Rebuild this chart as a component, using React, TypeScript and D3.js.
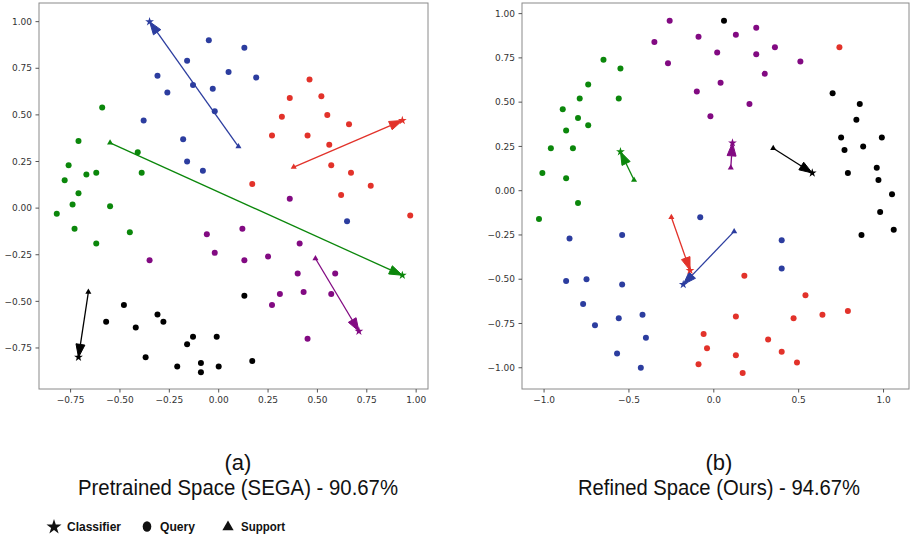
import React from "react";
import * as d3 from "d3";

// class order: blue, red, purple, green, black
const classColors = ["#2c3d9f", "#e2322a", "#820a82", "#0b870b", "#000000"];

// ---- (a) pretrained space ----
const leftBlue = [
  [-0.05, 0.9], [-0.16, 0.79], [0.05, 0.73], [-0.31, 0.71], [-0.13, 0.66], [-0.26, 0.62],
  [-0.03, 0.64], [-0.02, 0.52], [-0.38, 0.47], [-0.18, 0.37], [-0.16, 0.25], [-0.08, 0.2],
  [0.13, 0.86], [0.19, 0.7], [0.65, -0.07],
];
const leftRed = [
  [0.46, 0.69], [0.36, 0.59], [0.52, 0.6], [0.32, 0.49], [0.55, 0.5], [0.66, 0.45],
  [0.27, 0.39], [0.45, 0.39], [0.56, 0.34], [0.57, 0.23], [0.67, 0.19], [0.17, 0.13],
  [0.77, 0.12], [0.62, 0.07], [0.97, -0.04],
];
const leftPurple = [
  [0.36, 0.05], [0.12, -0.11], [0.41, -0.19], [-0.02, -0.24], [0.13, -0.28], [0.25, -0.26],
  [0.4, -0.35], [0.59, -0.35], [0.31, -0.46], [0.43, -0.45], [0.57, -0.46], [0.27, -0.52],
  [0.45, -0.7], [-0.06, -0.14], [-0.35, -0.28],
];
const leftGreen = [
  [-0.59, 0.54], [-0.71, 0.36], [-0.76, 0.23], [-0.67, 0.18], [-0.62, 0.19], [-0.78, 0.15],
  [-0.71, 0.08], [-0.41, 0.3], [-0.39, 0.19], [-0.74, 0.02], [-0.55, 0.01], [-0.82, -0.03],
  [-0.73, -0.11], [-0.45, -0.13], [-0.62, -0.19],
];
const leftBlack = [
  [-0.48, -0.52], [-0.57, -0.61], [-0.42, -0.64], [-0.31, -0.57], [-0.28, -0.61], [-0.13, -0.69],
  [-0.01, -0.69], [-0.16, -0.73], [-0.37, -0.8], [-0.21, -0.85], [-0.09, -0.83], [-0.09, -0.88],
  [0.0, -0.85], [0.13, -0.47], [0.17, -0.82],
];
const leftSupport = [[0.1, 0.33], [0.38, 0.22], [0.49, -0.27], [-0.55, 0.35], [-0.66, -0.45]];
const leftClassifier = [[-0.35, 1.0], [0.93, 0.47], [0.71, -0.66], [0.93, -0.36], [-0.71, -0.8]];
const leftTicks = [-0.75, -0.5, -0.25, 0, 0.25, 0.5, 0.75, 1.0];

// ---- (b) refined space ----
const rightBlue = [
  [-0.85, -0.27], [-0.54, -0.25], [-0.87, -0.51], [-0.75, -0.5], [-0.54, -0.53], [-0.77, -0.64],
  [-0.7, -0.76], [-0.56, -0.72], [-0.42, -0.7], [-0.4, -0.83], [-0.57, -0.92], [-0.43, -1.0],
  [-0.08, -0.15], [0.4, -0.28], [0.4, -0.44],
];
const rightRed = [
  [0.74, 0.81], [0.18, -0.48], [0.54, -0.59], [0.79, -0.68], [0.64, -0.7], [0.47, -0.72],
  [0.13, -0.71], [-0.06, -0.81], [0.32, -0.84], [-0.04, -0.89], [0.13, -0.93], [0.4, -0.91],
  [0.49, -0.97], [-0.09, -0.98], [0.17, -1.03],
];
const rightPurple = [
  [-0.35, 0.84], [-0.26, 0.96], [-0.27, 0.72], [-0.1, 0.56], [-0.09, 0.87], [0.02, 0.78],
  [0.13, 0.88], [0.25, 0.92], [0.25, 0.77], [0.36, 0.81], [0.51, 0.73], [0.3, 0.66],
  [0.04, 0.61], [0.21, 0.49], [-0.02, 0.42],
];
const rightGreen = [
  [-0.65, 0.74], [-0.55, 0.69], [-0.74, 0.6], [-0.79, 0.52], [-0.56, 0.52], [-0.89, 0.46],
  [-0.8, 0.41], [-0.74, 0.37], [-0.87, 0.34], [-0.96, 0.24], [-0.83, 0.24], [-1.01, 0.1],
  [-0.87, 0.07], [-0.8, -0.07], [-1.03, -0.16],
];
const rightBlack = [
  [0.06, 0.96], [0.7, 0.55], [0.86, 0.49], [0.84, 0.4], [0.75, 0.3], [0.99, 0.3],
  [0.77, 0.23], [0.88, 0.25], [0.96, 0.13], [0.79, 0.1], [0.97, 0.06], [1.05, -0.02],
  [0.98, -0.12], [1.06, -0.22], [0.87, -0.25],
];
const rightSupport = [[0.12, -0.23], [-0.25, -0.15], [0.1, 0.13], [-0.47, 0.06], [0.35, 0.24]];
const rightClassifier = [[-0.18, -0.53], [-0.14, -0.45], [0.11, 0.27], [-0.55, 0.22], [0.58, 0.1]];
const rightXTicks = [-1.0, -0.5, 0, 0.5, 1.0];
const rightYTicks = [-1.0, -0.75, -0.5, -0.25, 0, 0.25, 0.5, 0.75, 1.0];

const captions = [
  ["(a)", "Pretrained Space (SEGA) - 90.67%"],
  ["(b)", "Refined Space (Ours) - 94.67%"],
];
const legendItems = ["Classifier", "Query", "Support"];

const starPath = d3.symbol(d3.symbolStar, 24)() as string;
const triPath = d3.symbol(d3.symbolTriangle, 16)() as string;

function fmt(v: number, digits: number) {
  return v.toFixed(digits).replace("-", "\u2212");
}

function Panel({ x, y, queries, support, classifier, xTicks, yTicks, xDigits }: any) {
  const [x0, x1] = x.range();
  const [y0, y1] = y.range();
  const headL = 13;
  const headW = 9;
  return (
    <g>
      <rect x={x0} y={y1} width={x1 - x0} height={y0 - y1} fill="#fff" stroke="#8a8a8a" strokeWidth={1} />
      {yTicks.map((t: number) => (
        <g key={"y" + t} transform={`translate(${x0},${y(t)})`}>
          <line x1={-3.5} x2={0} stroke="#555" />
          <text x={-7} dy="0.35em" textAnchor="end" fontSize={9} fill="#333" fontFamily="DejaVu Sans">
            {fmt(t, 2)}
          </text>
        </g>
      ))}
      {xTicks.map((t: number) => (
        <g key={"x" + t} transform={`translate(${x(t)},${y0})`}>
          <line y1={0} y2={3.5} stroke="#555" />
          <text y={14} textAnchor="middle" fontSize={9} fill="#333" fontFamily="DejaVu Sans">
            {fmt(t, xDigits)}
          </text>
        </g>
      ))}
      {queries.map((pts: number[][], ci: number) =>
        pts.map((p, i) => (
          <circle key={ci + "-" + i} cx={x(p[0])} cy={y(p[1])} r={3} fill={classColors[ci]} />
        ))
      )}
      {support.map((s: number[], ci: number) => {
        const c = classifier[ci];
        const sx = x(s[0]), sy = y(s[1]);
        const cx = x(c[0]), cy = y(c[1]);
        const ang = Math.atan2(cy - sy, cx - sx);
        const bx = cx - headL * Math.cos(ang), by = cy - headL * Math.sin(ang);
        const px = -Math.sin(ang) * headW / 2, py = Math.cos(ang) * headW / 2;
        const col = classColors[ci];
        return (
          <g key={"a" + ci}>
            <line x1={sx} y1={sy} x2={bx} y2={by} stroke={col} strokeWidth={1.3} />
            <path d={`M${cx},${cy}L${bx + px},${by + py}L${bx - px},${by - py}Z`} fill={col} stroke={col} strokeWidth={1} />
            <path d={triPath} transform={`translate(${sx},${sy})`} fill={col} />
            <path d={starPath} transform={`translate(${cx},${cy})`} fill={col} />
          </g>
        );
      })}
    </g>
  );
}

export default function App() {
  const xL = d3.scaleLinear().domain([-0.91, 1.06]).range([39, 428]);
  const yL = d3.scaleLinear().domain([-0.97, 1.1]).range([389, 3]);
  const xR = d3.scaleLinear().domain([-1.13, 1.15]).range([522, 909]);
  const yR = d3.scaleLinear().domain([-1.12, 1.06]).range([389, 3]);

  const legendX = [54, 147, 228];
  const legendW = [54, 35, 44];
  const captionX = [238, 719];
  const captionW = [320, 282];
  return (
    <div>
      <style>{`body{margin:0}`}</style>
      <svg width={910} height={536} style={{ display: "block", background: "#fff" }}>
        <Panel
          x={xL}
          y={yL}
          queries={[leftBlue, leftRed, leftPurple, leftGreen, leftBlack]}
          support={leftSupport}
          classifier={leftClassifier}
          xTicks={leftTicks}
          yTicks={leftTicks}
          xDigits={2}
        />
        <Panel
          x={xR}
          y={yR}
          queries={[rightBlue, rightRed, rightPurple, rightGreen, rightBlack]}
          support={rightSupport}
          classifier={rightClassifier}
          xTicks={rightXTicks}
          yTicks={rightYTicks}
          xDigits={1}
        />
        {captions.map((c, i) => (
          <g key={i} fontFamily="Liberation Sans Narrow, Liberation Sans, Arial, sans-serif" fill="#111" textAnchor="middle" fontSize={22}>
            <text x={captionX[i]} y={470}>{c[0]}</text>
            <text x={captionX[i]} y={495} textLength={captionW[i]} lengthAdjust="spacingAndGlyphs">{c[1]}</text>
          </g>
        ))}
        <g fontFamily="Liberation Sans Narrow, Liberation Sans, Arial, sans-serif" fontWeight="bold" fontSize={12.5} fill="#111">
          <path d={d3.symbol(d3.symbolStar, 70)() as string} transform={`translate(${legendX[0]},527)`} fill="#111" />
          <ellipse cx={legendX[1]} cy={526.5} rx={4.3} ry={5.3} fill="#111" />
          <path d={d3.symbol(d3.symbolTriangle, 55)() as string} transform={`translate(${legendX[2]},527)`} fill="#111" />
          {legendItems.map((t, i) => (
            <text key={t} x={legendX[i] + 13} y={531} textLength={legendW[i]} lengthAdjust="spacingAndGlyphs">{t}</text>
          ))}
        </g>
      </svg>
    </div>
  );
}
